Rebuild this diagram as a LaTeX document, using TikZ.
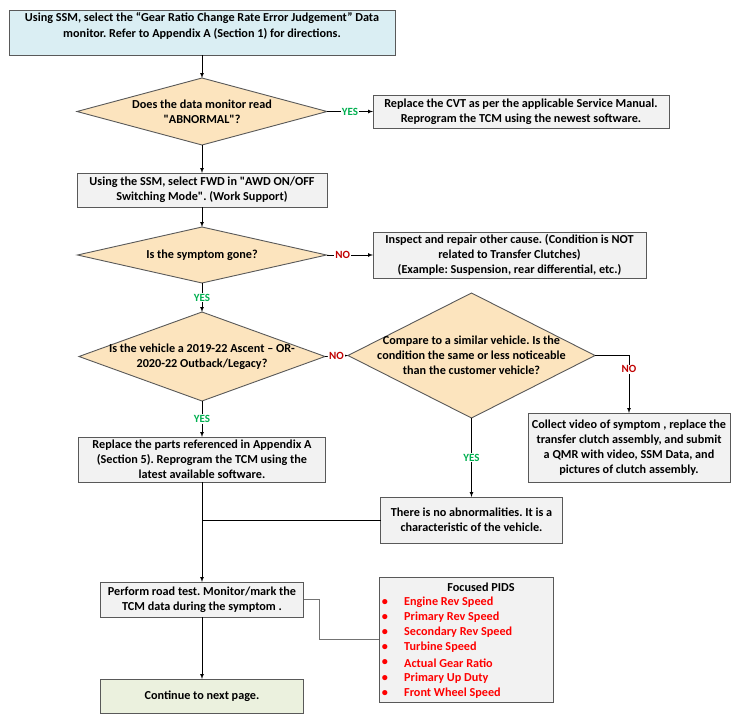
\documentclass[tikz,border=0pt]{standalone}
\usepackage{fontspec}
\setmainfont{Carlito}[Ligatures=TeXOff]
\usepackage{tikz}
\usetikzlibrary{shapes.geometric}
\frenchspacing
\definecolor{startblue}{HTML}{DAEEF3}
\definecolor{boxgray}{HTML}{F2F2F2}
\definecolor{decisiontan}{HTML}{FCE4BE}
\definecolor{endgreen}{HTML}{EBF1DE}
\definecolor{yesgreen}{HTML}{00B050}
\definecolor{nored}{HTML}{C00000}
\definecolor{edgegray}{HTML}{595959}
\tikzset{
  every node/.style={font=\fontsize{12.2}{15.2}\selectfont\bfseries},
  procbox/.style={draw=edgegray, line width=0.9pt, align=center, inner sep=2pt, outer sep=0pt},
  decision/.style={diamond, draw=edgegray, line width=0.9pt, fill=decisiontan, inner sep=0pt, outer sep=0pt},
  flow/.style={-latex, line width=0.7pt},
  link/.style={line width=0.7pt},
  yeslbl/.style={fill=white, inner sep=1pt, text=yesgreen, font=\fontsize{11}{13}\selectfont\bfseries},
  nolbl/.style={yeslbl, text=nored}
}
\newcommand\flowbox[6][boxgray]{
  \node[procbox, fill=#1, minimum width=#4pt, minimum height=#5pt] (#2) at (#3) {#6};
}
\newcommand\decide[5]{
  \node[decision, minimum width=#3pt, minimum height=#4pt] (#1) at (#2) {};
  \node[align=center] (#1txt) at (#1.center) {#5};
}

\begin{document}
\begin{tikzpicture}[x=1pt, y=-1pt]
  \def\cx{202}
  \useasboundingbox (0,0) rectangle (740,723);

  \flowbox[startblue]{start}{\cx,32.5}{386}{45}{Using SSM, select the “Gear Ratio Change Rate Error Judgement” Data\\ monitor. Refer to Appendix A (Section 1) for directions.\\ \mbox{}}
  \decide{abn}{\cx,111.5}{250}{67}{Does the data monitor read\\ "ABNORMAL"?}
  \flowbox{cvt}{521,111.5}{296}{33}{Replace the CVT as per the applicable Service Manual.\\ Reprogram the TCM using the newest software.}
  \flowbox{fwd}{\cx,190}{250}{34}{Using the SSM, select FWD in "AWD ON/OFF\\ Switching Mode". (Work Support)}
  \decide{gone}{\cx,255}{249}{56}{Is the symptom gone?}
  \flowbox{other}{509.5,255}{273}{46}{Inspect and repair other cause. (Condition is NOT\\ related to Transfer Clutches)\\ (Example: Suspension, rear differential, etc.)}
  \decide{model}{\cx,356.5}{246}{89}{Is the vehicle a 2019-22 Ascent – OR-\\ 2020-22 Outback/Legacy?}
  \decide{cmp}{471.5,355.5}{247}{125}{Compare to a similar vehicle. Is the\\ condition the same or less noticeable\\ than the customer vehicle?}
  \flowbox{video}{629,447.5}{202}{69}{Collect video of symptom , replace the\\ transfer clutch assembly, and submit\\ a QMR with video, SSM Data, and\\ pictures of clutch assembly.}
  \flowbox{normal}{471.5,520}{182}{46}{There is no abnormalities. It is a\\ characteristic of the vehicle.}
  \flowbox{parts}{\cx,459.5}{247}{45}{Replace the parts referenced in Appendix A\\ (Section 5). Reprogram the TCM using the\\ latest available software.}
  \flowbox{road}{\cx,599.5}{203}{35}{Perform road test. Monitor/mark the\\ TCM data during the symptom .}
  \flowbox[endgreen]{cont}{\cx,696}{203}{34}{Continue to next page.}
  \flowbox{pids}{466,639.5}{174}{125}{}

  \node (pidstitle) at (481,587) {Focused PIDS};
  \foreach \pid [count=\i from 0] in {Engine Rev Speed, Primary Rev Speed, Secondary Rev Speed, Turbine Speed, Actual Gear Ratio, Primary Up Duty, Front Wheel Speed} {
    \node[text=red] (bul\i) at (385,602+15.2*\i) {\textbullet};
    \node[text=red, anchor=west, inner sep=0pt] (pid\i) at (404,602+15.2*\i) {\pid};
  }

  \draw[flow] (start.south) -- (abn.north);
  \draw[flow] (abn.east) -- node[yeslbl] {YES} (cvt.west);
  \draw[flow] (abn.south) -- (fwd.north);
  \draw[flow] (fwd.south) -- (gone.north);
  \draw[flow] (gone.east) -- node[nolbl, pos=0.35] {NO} (other.west);
  \draw[flow] (gone.south) -- node[yeslbl] {YES} (model.north);
  \draw[flow] (model.east) -- node[nolbl] {NO} (cmp.west);
  \draw[flow] (model.south) -- node[yeslbl] {YES} (parts.north);
  \draw[flow] (cmp.east) -| node[nolbl, pos=0.62] {NO} (video.north);
  \draw[flow] (cmp.south) -- node[yeslbl] {YES} (normal.north);
  \draw[flow] (parts.south) -- (road.north);
  \draw[link] (normal.west) -- (normal.west -| parts.south);
  \draw[flow] (road.south) -- (cont.north);
  \draw[link, draw=black!55] (road.east) -- ++(16,0) |- (pids.west);
\end{tikzpicture}
\end{document}
